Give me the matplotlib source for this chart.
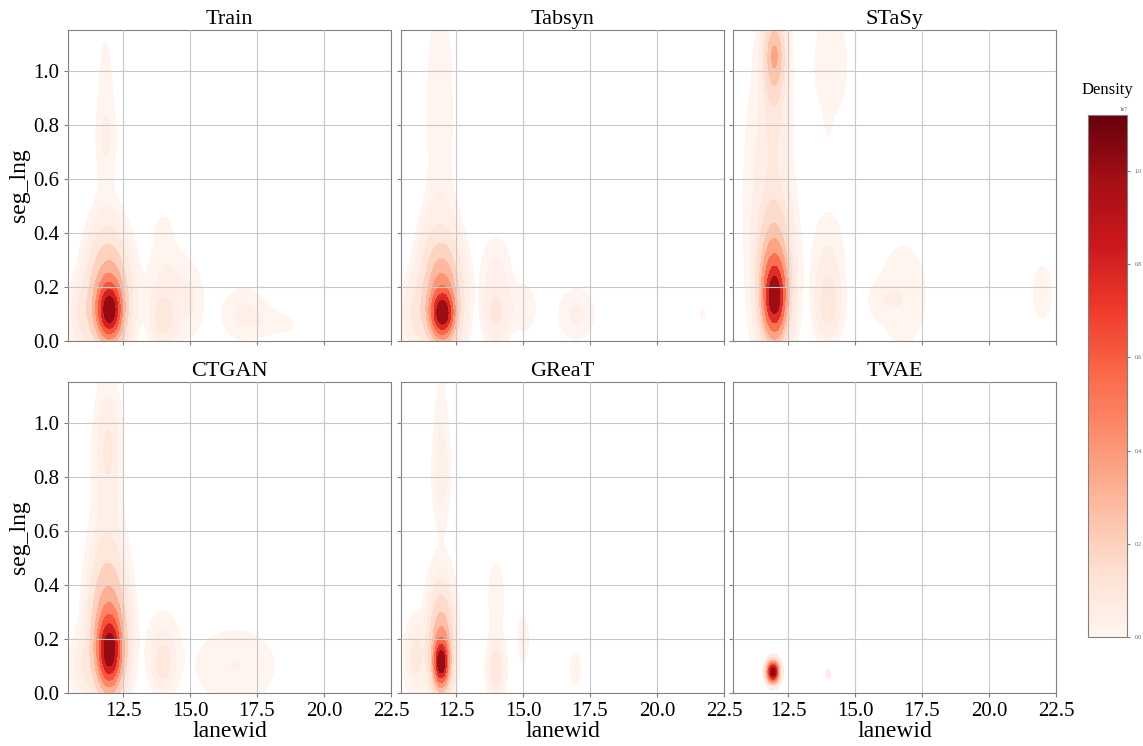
import matplotlib
matplotlib.use('Agg')
import matplotlib.pyplot as plt
import numpy as np

plt.rcParams['font.family'] = ['Liberation Serif', 'DejaVu Serif']

# panel names
titles = ['Train', 'Tabsyn', 'STaSy', 'CTGAN', 'GReaT', 'TVAE']

# density bumps: (lanewid, seg_lng, width_x, width_y, height)
train_blobs = [
    (12.0, 0.11, 0.28, 0.06, 1.00),
    (12.0, 0.14, 0.44, 0.12, 0.50),
    (11.9, 0.22, 0.52, 0.15, 0.18),
    (11.9, 0.75, 0.25, 0.08, 0.03),
    (11.85, 0.85, 0.30, 0.30, 0.035),
    (11.0, 0.10, 0.35, 0.08, 0.10),
    (14.0, 0.08, 0.30, 0.06, 0.13),
    (14.1, 0.20, 0.50, 0.12, 0.06),
    (14.0, 0.40, 0.25, 0.06, 0.03),
    (15.0, 0.15, 0.40, 0.10, 0.05),
    (17.0, 0.10, 0.60, 0.07, 0.06),
    (18.0, 0.07, 0.50, 0.04, 0.03),
    (18.7, 0.06, 0.30, 0.03, 0.02),
]
tabsyn_blobs = [
    (12.0, 0.10, 0.26, 0.05, 1.00),
    (12.0, 0.14, 0.42, 0.12, 0.45),
    (11.9, 0.22, 0.50, 0.15, 0.18),
    (11.9, 0.85, 0.40, 0.35, 0.04),
    (11.0, 0.10, 0.35, 0.08, 0.10),
    (14.0, 0.10, 0.30, 0.07, 0.11),
    (14.0, 0.25, 0.40, 0.10, 0.05),
    (15.0, 0.12, 0.40, 0.07, 0.04),
    (17.0, 0.10, 0.50, 0.07, 0.05),
    (21.7, 0.10, 0.10, 0.02, 0.03),
]
stasy_blobs = [
    (12.0, 0.16, 0.25, 0.08, 1.00),
    (12.0, 0.20, 0.38, 0.15, 0.45),
    (12.0, 0.28, 0.42, 0.20, 0.15),
    (12.0, 1.06, 0.25, 0.09, 0.33),
    (12.0, 0.95, 0.32, 0.20, 0.12),
    (11.7, 0.60, 0.55, 0.30, 0.06),
    (14.0, 0.13, 0.30, 0.08, 0.14),
    (14.0, 0.28, 0.40, 0.13, 0.06),
    (14.1, 1.02, 0.50, 0.15, 0.04),
    (14.0, 0.82, 0.12, 0.08, 0.015),
    (16.0, 0.15, 0.40, 0.05, 0.03),
    (16.8, 0.17, 0.60, 0.13, 0.05),
    (22.0, 0.18, 0.25, 0.07, 0.05),
]
ctgan_blobs = [
    (12.0, 0.15, 0.28, 0.08, 1.00),
    (12.0, 0.20, 0.42, 0.15, 0.45),
    (11.9, 0.32, 0.46, 0.17, 0.15),
    (11.95, 0.92, 0.30, 0.14, 0.08),
    (11.9, 0.70, 0.42, 0.30, 0.05),
    (11.0, 0.10, 0.35, 0.08, 0.08),
    (14.0, 0.10, 0.30, 0.07, 0.10),
    (14.0, 0.18, 0.45, 0.10, 0.05),
    (16.7, 0.10, 1.10, 0.10, 0.06),
]
great_blobs = [
    (11.95, 0.11, 0.17, 0.05, 1.00),
    (11.95, 0.15, 0.26, 0.11, 0.40),
    (11.95, 0.24, 0.33, 0.14, 0.14),
    (11.95, 0.80, 0.22, 0.12, 0.06),
    (11.95, 1.00, 0.18, 0.15, 0.03),
    (11.0, 0.13, 0.25, 0.09, 0.10),
    (14.0, 0.09, 0.22, 0.07, 0.12),
    (14.0, 0.35, 0.22, 0.10, 0.04),
    (15.0, 0.20, 0.14, 0.06, 0.05),
    (16.95, 0.09, 0.14, 0.04, 0.05),
]
tvae_blobs = [
    (11.94, 0.078, 0.15, 0.026, 1.00),
    (14.0, 0.07, 0.10, 0.02, 0.05),
]
all_blobs = [train_blobs, tabsyn_blobs, stasy_blobs, ctgan_blobs, great_blobs, tvae_blobs]

x_ticks = [12.5, 15.0, 17.5, 20.0, 22.5]
y_ticks = [0.0, 0.2, 0.4, 0.6, 0.8, 1.0]
cbar_ticks = [0.0, 0.2e7, 0.4e7, 0.6e7, 0.8e7, 1.0e7]
density_max = 1.12e7


def density(blobs, X, Y):
    Z = np.zeros_like(X)
    for bx, by, sx, sy, h in blobs:
        Z += h * np.exp(-0.5 * (((X - bx) / sx) ** 2 + ((Y - by) / sy) ** 2))
    return Z


def prop_levels(Z, n=10, thresh=0.05):
    # iso-proportion levels like seaborn's kdeplot
    v = np.sort(Z.ravel())
    c = np.cumsum(v)
    c = c / c[-1]
    qs = np.linspace(thresh, 1, n)
    idx = np.clip(np.searchsorted(c, qs), 0, len(v) - 1)
    lv = v[idx]
    lv[-1] = v[-1] * 1.0001
    return np.unique(lv)


fig = plt.figure(figsize=(11.43, 7.46), dpi=100)
lefts = [68, 401, 733]
tops = [30, 382]
W, H = 1143, 746
xs = np.linspace(10.45, 22.5, 400)
ys = np.linspace(0, 1.15, 300)
X, Y = np.meshgrid(xs, ys)

for k, blobs in enumerate(all_blobs):
    r, c = divmod(k, 3)
    ax = fig.add_axes([lefts[c] / W, 1 - (tops[r] + 311) / H, 323 / W, 311 / H])
    Z = density(blobs, X, Y)
    ax.contourf(X, Y, Z, levels=prop_levels(Z), cmap='Reds')
    ax.set_xlim(10.45, 22.5)
    ax.set_ylim(0, 1.15)
    ax.set_xticks(x_ticks)
    ax.set_yticks(y_ticks)
    ax.set_axisbelow(False)
    ax.grid(True, color='#c8c8c8', linewidth=0.8)
    for sp in ax.spines.values():
        sp.set_color('#808080')
    ax.tick_params(colors='#808080', labelcolor='black', labelsize=15, length=3)
    ax.set_title(titles[k], fontsize=16, pad=4)
    if c == 0:
        ax.set_ylabel('seg_lng', fontsize=17, labelpad=2)
    else:
        ax.tick_params(labelleft=False)
    if r == 1:
        ax.set_xlabel('lanewid', fontsize=17, labelpad=0)
    else:
        ax.tick_params(labelbottom=False)

cax = fig.add_axes([1088 / W, 1 - 637 / H, 39 / W, 522 / H])
sm = plt.cm.ScalarMappable(cmap='Reds', norm=plt.Normalize(0, density_max))
cb = fig.colorbar(sm, cax=cax, ticks=cbar_ticks)
cb.outline.set_edgecolor('#808080')
cax.tick_params(labelsize=4, length=2, colors='#808080', labelcolor='#555555')
cax.yaxis.get_offset_text().set_fontsize(4)
fig.text(1107 / W, 1 - 90 / H, 'Density', ha='center', va='center', fontsize=12)

fig.savefig('out.png', dpi=100)
